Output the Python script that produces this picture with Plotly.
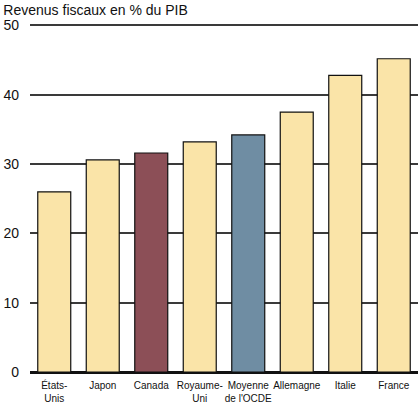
import plotly.graph_objects as go

pays = ["États-<br>Unis", "Japon", "Canada", "Royaume-<br>Uni", "Moyenne<br>de l'OCDE",
        "Allemagne", "Italie", "France"]
revenus = [26.0, 30.6, 31.6, 33.2, 34.2, 37.5, 42.8, 45.2]
couleurs = ["#FAE4A8", "#FAE4A8", "#8C4F57", "#FAE4A8", "#6F8DA3",
            "#FAE4A8", "#FAE4A8", "#FAE4A8"]

fig = go.Figure(go.Bar(
    x=pays,
    y=revenus,
    marker=dict(color=couleurs, line=dict(color="#111111", width=1.2)),
    hoverinfo="skip",
))

fig.update_layout(
    width=418,
    height=413,
    margin=dict(l=30, r=0, t=22, b=41),
    paper_bgcolor="white",
    plot_bgcolor="white",
    bargap=0.32,
    showlegend=False,
    font=dict(family="Liberation Sans, Arial, sans-serif", color="#111111"),
    title=dict(
        text="Revenus fiscaux en % du PIB",
        x=0.008, xanchor="left", xref="container",
        y=0.976, yanchor="middle", yref="container",
        font=dict(size=14, color="#111111"),
    ),
)

fig.update_xaxes(
    tickfont=dict(size=10),
    tickangle=0,
    showgrid=False,
    showline=False,
    ticks="",
    ticklabelstandoff=6,
    automargin=False,
)

fig.update_yaxes(
    range=[0, 50.5],
    tickvals=[0, 10, 20, 30, 40, 50],
    showgrid=True,
    gridcolor="#3a3a3a",
    gridwidth=1.5,
    zeroline=True,
    zerolinecolor="#111111",
    zerolinewidth=3,
    showline=False,
    ticks="",
    tickfont=dict(size=14),
    ticklabelstandoff=10,
    automargin=False,
)

# pas de marge autour du graphique dans la page
fig.write_html("out.html", config={"displayModeBar": False},
               post_script="document.body.style.margin='0px';")
